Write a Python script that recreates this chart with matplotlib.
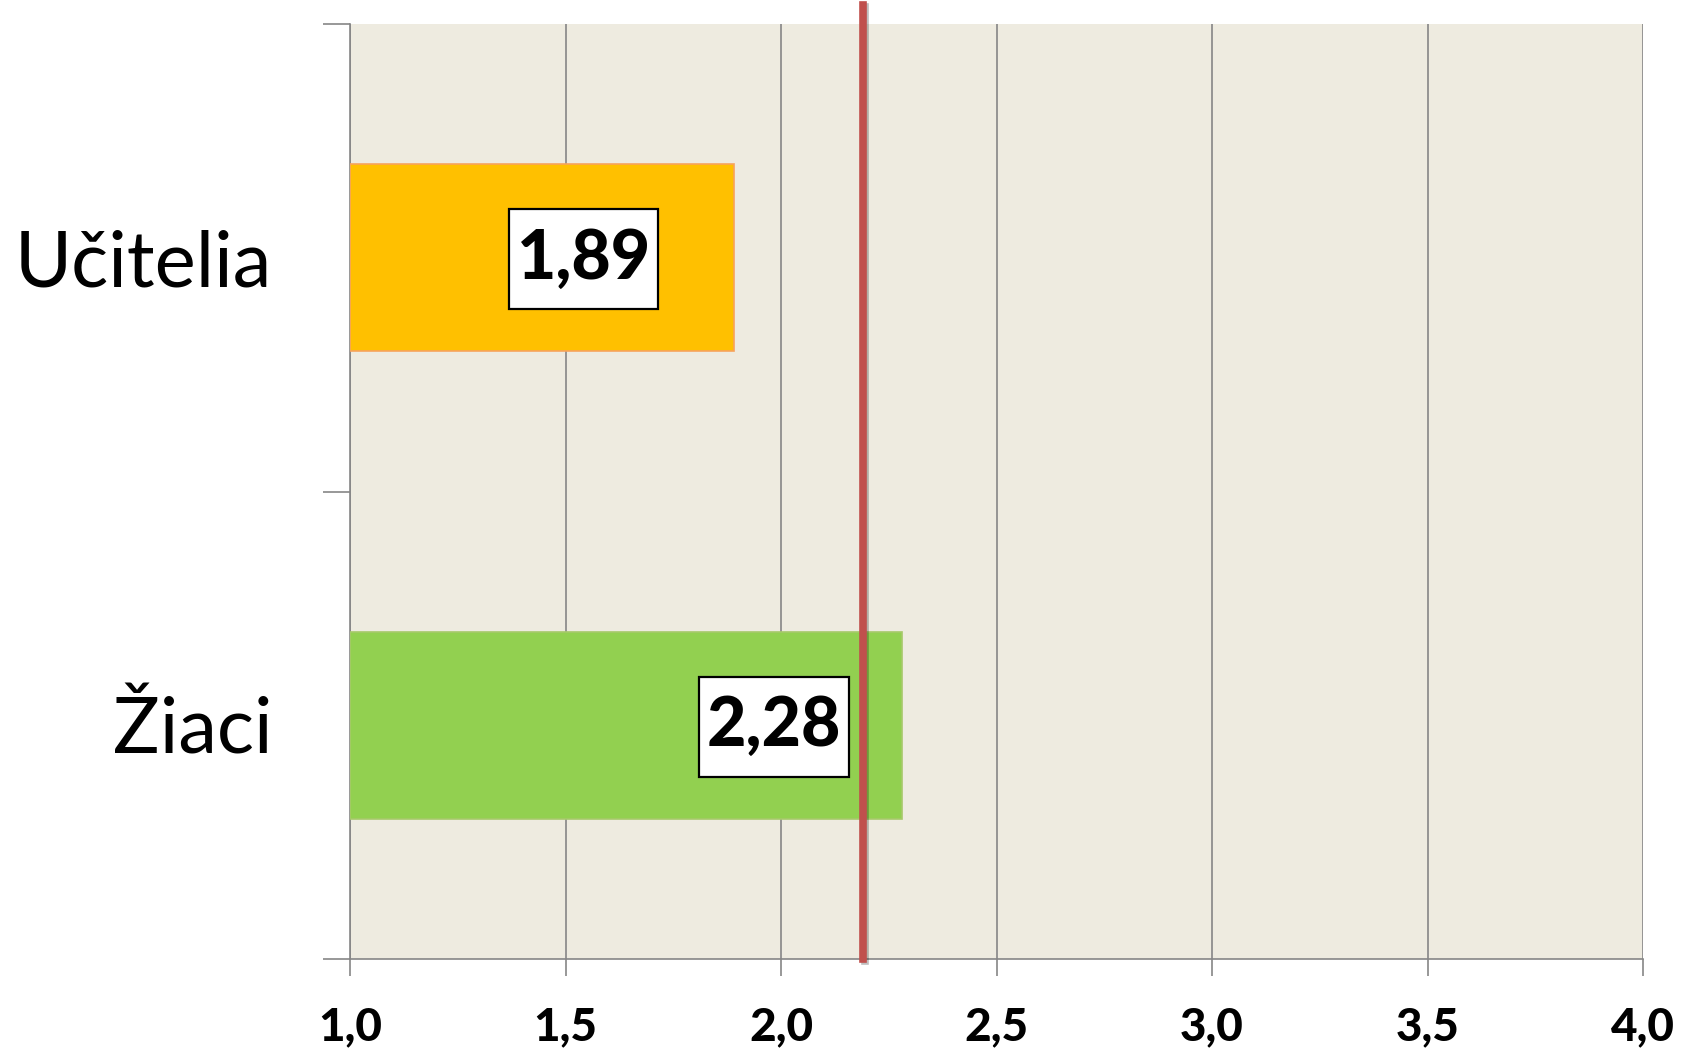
import matplotlib.pyplot as plt
import matplotlib.patheffects as pe
from matplotlib.path import Path
from matplotlib.ticker import FixedLocator

# ---------------- DATA ----------------
categories = ["Žiaci", "Učitelia"]
values = [2.28, 1.89]
value_labels = ["2,28", "1,89"]
bar_colors = ["#92D050", "#FFC000"]
edge_colors = ["#A6C96A", "#F7A35C"]
reference_value = 2.19
x_ticks = [1.0, 1.5, 2.0, 2.5, 3.0, 3.5, 4.0]
x_tick_labels = ["1,0", "1,5", "2,0", "2,5", "3,0", "3,5", "4,0"]

plt.rcParams["font.family"] = ["Lato", "DejaVu Sans"]


def label_box(x0, y0, width, height, mutation_size):
    # square box with more padding top/bottom than left/right
    px = 0.11 * mutation_size
    py = 0.27 * mutation_size
    x0, y0 = x0 - px, y0 - py
    x1, y1 = x0 + width + 2 * px, y0 + height + 2 * py
    return Path([(x0, y0), (x1, y0), (x1, y1), (x0, y1), (x0, y0)], closed=True)


fig = plt.figure(figsize=(16.96, 10.57), dpi=100)
ax = fig.add_axes([0.2064, 0.0927, 0.7624, 0.8846])
ax.set_facecolor("#EEEBE0")

# ---------------- BARS ----------------
ypos = list(range(len(categories)))
ax.barh(ypos, [v - 1.0 for v in values], left=1.0, height=0.4,
        color=bar_colors, edgecolor=edge_colors, linewidth=1.2, zorder=3)

# value labels in white boxes (box centre offset in points from bar end)
offsets = [-92, -108]
for y, v, lab, off in zip(ypos, values, value_labels, offsets):
    ax.annotate(lab, xy=(v, y), xytext=(off, -1), textcoords="offset points",
                ha="center", va="center", fontsize=49, fontweight="black",
                bbox=dict(boxstyle=label_box, fc="white", ec="black", lw=1.6),
                zorder=6)

# reference line
ax.axvline(reference_value, ymin=0, ymax=1.02, color="#C0504D", lw=5.5,
           clip_on=False, zorder=5,
           path_effects=[pe.SimpleLineShadow(offset=(1.5, -1.5), alpha=0.25), pe.Normal()])

# ---------------- AXES ----------------
ax.set_xlim(1.0, 4.0)
ax.set_ylim(-0.5, 1.5)
ax.xaxis.set_major_locator(FixedLocator(x_ticks))
ax.set_xticklabels(x_tick_labels, fontsize=33, fontweight="black")
ax.set_yticks(ypos)
ax.set_yticklabels(categories, fontsize=56)
ax.yaxis.set_minor_locator(FixedLocator([-0.5, 0.5, 1.5]))

ax.tick_params(axis="y", which="major", length=0, pad=56)
ax.tick_params(axis="y", which="minor", length=19.5, width=1.2, color="#868686")
ax.tick_params(axis="x", which="major", length=12, width=1.2, color="#868686", pad=22)

ax.grid(axis="x", color="#868686", lw=1.2, zorder=1)
ax.set_axisbelow(True)
for s in ["top", "right"]:
    ax.spines[s].set_visible(False)
for s in ["left", "bottom"]:
    ax.spines[s].set_color("#868686")
    ax.spines[s].set_linewidth(1.2)

fig.savefig("out.png", dpi=100)
